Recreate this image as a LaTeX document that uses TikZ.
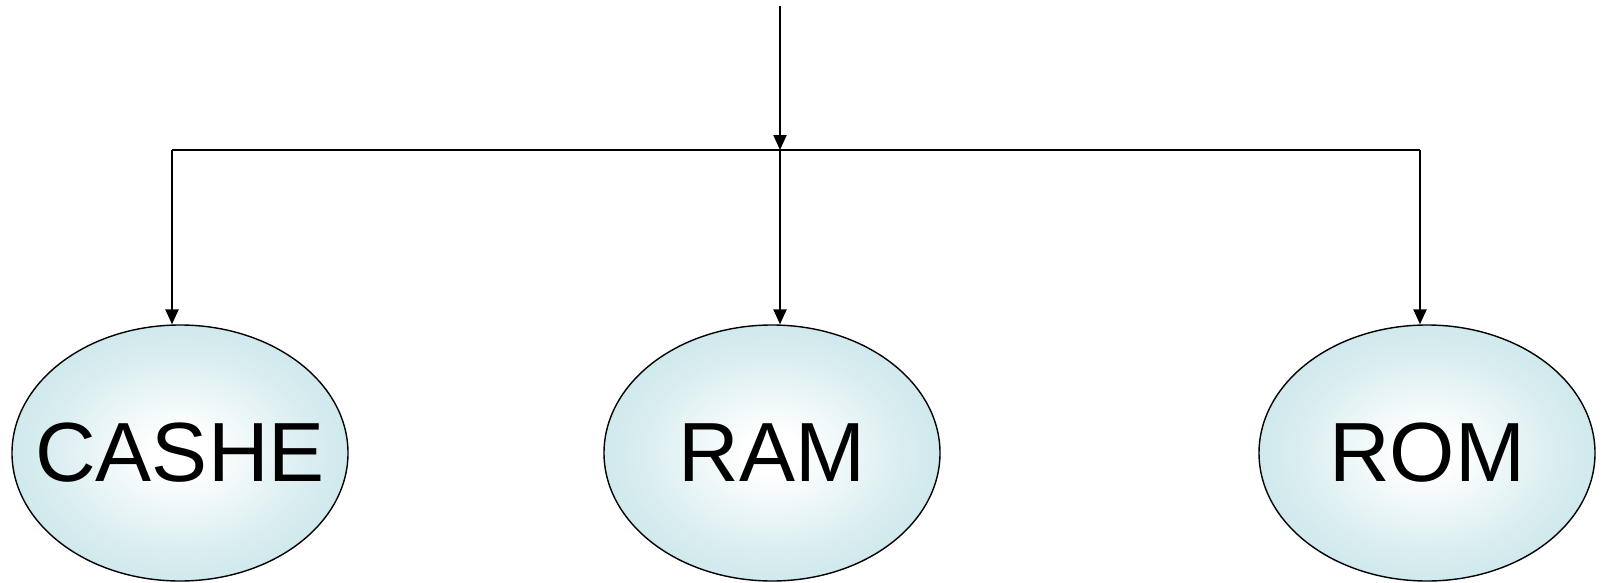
\documentclass[tikz,border=0pt]{standalone}
\usepackage{fontspec}
\setmainfont{Liberation Sans}
\usetikzlibrary{arrows.meta,shapes.geometric}
\definecolor{memedge}{RGB}{184,222,227}
\pgfdeclareradialshading{memglow}{\pgfpoint{0bp}{0bp}}{%
  color(0bp)=(white);
  color(4bp)=(white);
  color(20bp)=(memedge!55!white);
  color(40bp)=(memedge);
  color(100bp)=(memedge)}
\tikzset{
  memory/.style={ellipse, draw=black, line width=1.4pt, shading=memglow,
    minimum width=336pt, minimum height=256pt, inner sep=0pt,
    label={[font=\fontsize{84}{84}\selectfont]center:#1}},
  wire/.style={line width=2.4pt},
  feed/.style={line width=2.4pt, -{Triangle[length=15pt,width=13pt]}}
}
\begin{document}
\begin{tikzpicture}[x=1pt,y=-1pt]
  \useasboundingbox (0,0) rectangle (1602,583);
  % the three memory kinds
  \node[memory=CASHE] (cache) at (180,453) {};
  \node[memory=RAM]   (ram)   at (772,453) {};
  \node[memory=ROM]   (rom)   at (1427,453) {};
  % distribution bus
  \coordinate (src)   at (780,6);
  \coordinate (bus)   at (780,150);
  \coordinate (busl)  at (172,150);
  \coordinate (busr)  at (1420,150);
  \draw[feed] (src) -- (bus);
  \draw[wire] (busl) -- (busr);
  \draw[feed] (busl) -- (busl |- cache.north);
  \draw[feed] (bus)  -- (bus |- ram.north);
  \draw[feed] (busr) -- (busr |- rom.north);
\end{tikzpicture}
\end{document}
